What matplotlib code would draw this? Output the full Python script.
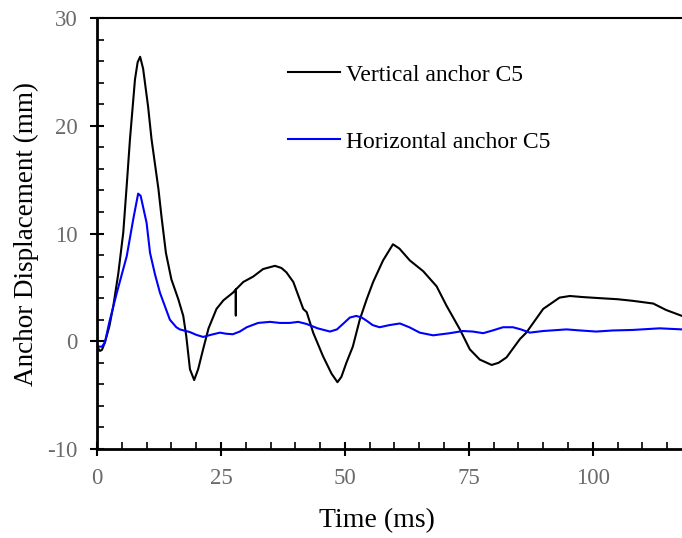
import matplotlib
matplotlib.use("Agg")
import matplotlib.pyplot as plt
from matplotlib.ticker import MultipleLocator

t_vert = [0, 0.6, 1.0, 1.6, 2.5, 3.3, 4.3, 5.3, 6.0, 6.65, 7.66, 8.2, 8.7, 9.3, 10.3, 11.0, 12.4, 13.0, 13.9,
          15.0, 16.4, 17.4, 18.0, 18.75, 19.6, 20.4, 21.4, 22.5, 24.1, 25.5, 27.4, 28.0, 28.0, 28.0, 29.5,
          31.5, 33.5, 35.9, 37.2, 38.2, 39.6, 41.6, 42.3, 43.6, 45.6, 47.3, 48.5, 49.3, 50.3, 51.6, 53.0,
          54.4, 55.7, 57.7, 59.7, 61.0, 63.1, 65.8, 68.5, 70.5, 73.2, 75.2, 77.2, 79.6, 81.0, 82.6, 85.3,
          86.6, 90.0, 93.3, 95.4, 98.0, 101.4, 105.0, 108.1, 112.2, 114.8, 118.0]
y_vert = [-0.5, -0.9, -0.8, -0.1, 1.4, 3.3, 6.3, 10.1, 14.5, 18.75, 24.3, 25.9, 26.4, 25.3, 21.8, 18.75, 14.1, 11.6, 8.2,
          5.75, 3.9, 2.35, 0.5, -2.6, -3.6, -2.6, -0.75, 1.2, 3.0, 3.8, 4.5, 4.8, 2.4, 4.8, 5.5,
          6.0, 6.7, 7.0, 6.8, 6.4, 5.5, 3.0, 2.7, 0.8, -1.4, -3.0, -3.8, -3.3, -2.0, -0.5, 2.0,
          3.9, 5.5, 7.5, 9.0, 8.6, 7.5, 6.5, 5.1, 3.3, 1.1, -0.75, -1.7, -2.2, -2.0, -1.5, 0.2,
          0.8, 3.0, 4.05, 4.2, 4.1, 4.0, 3.9, 3.75, 3.5, 2.9, 2.35]

t_horiz = [0, 1.0, 1.6, 2.5, 4.0, 6.0, 7.3, 8.3, 8.8, 10.0, 10.7, 11.7, 12.7, 14.7, 16.0, 16.7, 18.75, 20.0,
           21.4, 23.0, 24.8, 26.0, 27.4, 28.8, 30.2, 32.5, 34.9, 36.9, 38.9, 40.6, 42.3, 44.5, 47.0, 48.4,
           49.6, 51.0, 52.3, 53.4, 54.4, 55.6, 57.0, 59.0, 61.1, 63.0, 65.1, 67.8, 71.2, 73.8, 75.8, 77.9,
           79.8, 81.9, 83.9, 85.5, 87.3, 90.0, 94.7, 97.5, 100.7, 104.0, 108.1, 113.5, 118.0]
y_horiz = [-0.5, -0.5, -0.1, 1.8, 4.5, 7.9, 11.3, 13.7, 13.5, 11.0, 8.2, 6.2, 4.5, 2.0, 1.3, 1.1, 0.85, 0.6,
           0.4, 0.6, 0.8, 0.7, 0.65, 0.9, 1.3, 1.7, 1.8, 1.7, 1.7, 1.8, 1.6, 1.2, 0.9, 1.1,
           1.6, 2.2, 2.35, 2.2, 1.9, 1.5, 1.3, 1.5, 1.65, 1.3, 0.8, 0.55, 0.75, 0.95, 0.9, 0.75,
           1.0, 1.3, 1.3, 1.1, 0.8, 0.95, 1.1, 1.0, 0.9, 1.0, 1.05, 1.2, 1.1]

labels = ["Vertical anchor C5", "Horizontal anchor C5"]
x_ticks = [0, 25, 50, 75, 100]
y_ticks = [-10, 0, 10, 20, 30]

plt.rcParams['font.family'] = ['Liberation Serif', 'DejaVu Serif']
plt.rcParams['axes.unicode_minus'] = False

fig = plt.figure(figsize=(6.82, 5.38), dpi=100)
ax = fig.add_axes([97/682, 1 - 449/538, 1 - 97/682, (449 - 18)/538])

ax.plot(t_vert, y_vert, color='black', lw=1.5, label=labels[0])
ax.plot(t_horiz, y_horiz, color='#0000ff', lw=1.5, label=labels[1])

ax.set_xlim(0, 118)
ax.set_ylim(-10, 30)
ax.set_xticks(x_ticks)
ax.set_yticks(y_ticks)
ax.xaxis.set_minor_locator(MultipleLocator(5))
ax.yaxis.set_minor_locator(MultipleLocator(2))

ax.tick_params(which='major', direction='inout', length=10, width=1.5, labelsize=16.5,
               labelcolor='#6a6a6a')
ax.tick_params(axis='x', which='major', pad=9)
ax.tick_params(axis='y', which='major', pad=9)
ax.tick_params(which='minor', direction='in', length=5, width=1.2)
ax.tick_params(axis='x', which='both', top=False)
ax.tick_params(axis='y', which='both', right=False)

ax.spines['right'].set_visible(False)
ax.spines['left'].set_linewidth(2)
ax.spines['bottom'].set_linewidth(2)
ax.spines['top'].set_linewidth(1.5)

ax.set_xlabel("Time (ms)", fontsize=20)
ax.xaxis.set_label_coords((377 - 97)/585, -(521 - 449)/431, transform=ax.transAxes)
ax.xaxis.label.set_va('center')
ax.set_ylabel("Anchor Displacement (mm)", fontsize=19.5, labelpad=6)

ax.legend(loc='upper left', bbox_to_anchor=((288 - 97)/585, (449 - 64)/431), frameon=False,
          fontsize=17, borderpad=0, borderaxespad=0, handlelength=2.2, handletextpad=0.25,
          labelspacing=1.93)

fig.savefig("out.png", dpi=100)
